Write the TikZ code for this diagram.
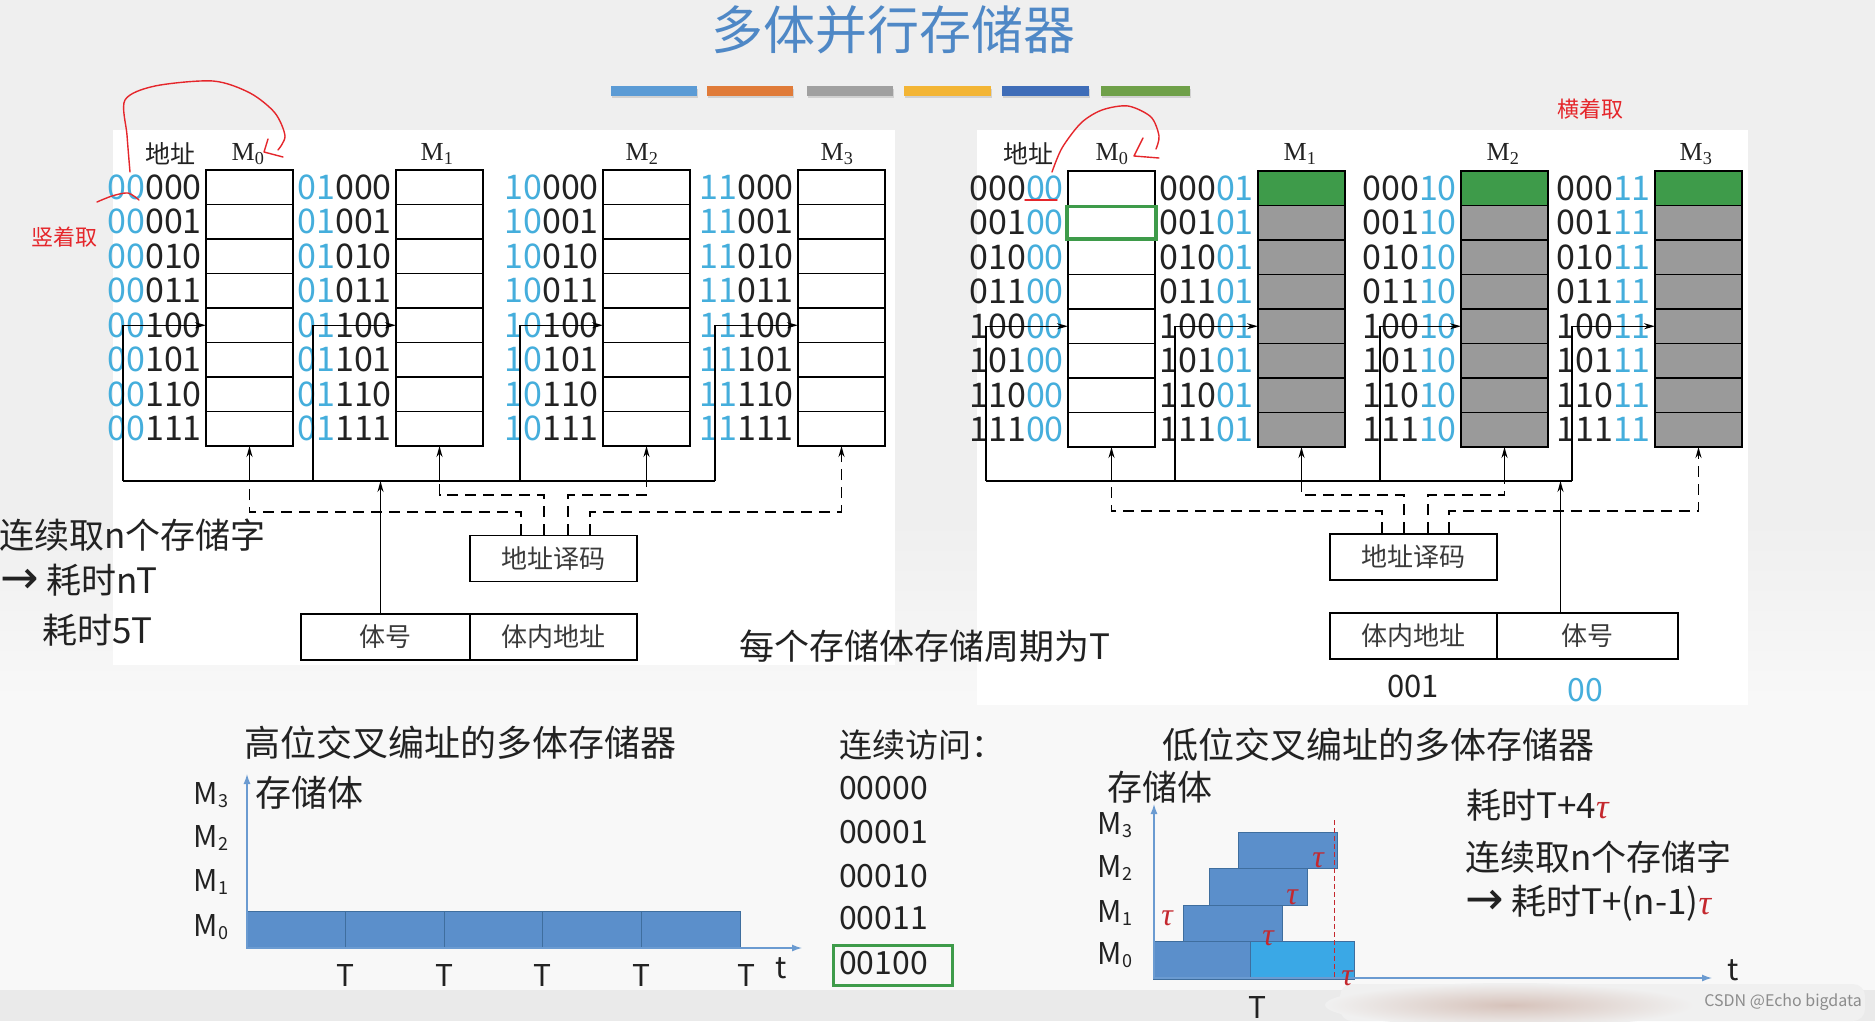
\documentclass[tikz,border=0pt]{standalone}
\usepackage{fontspec}
\setmainfont{Noto Sans CJK SC}
\newfontfamily\serifM{Liberation Serif}
\newfontfamily\arrowf{DejaVu Sans}
\usetikzlibrary{arrows.meta,calc}
\definecolor{bgc}{HTML}{EFEFEF}
\definecolor{lowbg}{HTML}{F8F8F8}
\definecolor{bandc}{HTML}{EAEAEA}
\definecolor{blurc}{HTML}{D6C2BA}
\definecolor{ttl}{HTML}{4F88C6}
\definecolor{addrblue}{HTML}{45AEDC}
\definecolor{cellgreen}{HTML}{3E9B4A}
\definecolor{cellgray}{HTML}{9A9A9A}
\definecolor{barblue}{HTML}{5B8FCB}
\definecolor{barline}{HTML}{3F6E9E}
\definecolor{lightbar}{HTML}{3AA8E6}
\definecolor{axisblue}{HTML}{6B9BD1}
\definecolor{redann}{HTML}{E5262B}
\definecolor{taured}{HTML}{C4282E}
\definecolor{txt}{HTML}{222222}
\definecolor{boxtxt}{HTML}{3A3A3A}
\definecolor{cA}{HTML}{5B9BD5}
\definecolor{cB}{HTML}{E07B39}
\definecolor{cC}{HTML}{A0A0A0}
\definecolor{cD}{HTML}{F3B535}
\definecolor{cE}{HTML}{3F6DB8}
\definecolor{cF}{HTML}{6FA049}
\newcommand\Msub[1]{M\raisebox{-0.12em}{\fontsize{18}{18}\selectfont #1}}
\newcommand\mytau{{\serifM\itshape τ}}
\newcommand\bigarrow{{\arrowf\fontsize{46}{46}\selectfont →}}
\begin{document}
\begin{tikzpicture}[x=1pt,y=-1pt,
  memcell/.style={draw, line width=1.6pt, minimum width=87pt, minimum height=34.5pt, inner sep=0pt, outer sep=0pt},
  addr/.style={font=\fontsize{34}{34}\selectfont, inner sep=0pt, anchor=east, text=txt},
  hdr/.style={font=\fontsize{25}{25}\selectfont, inner sep=0pt, text=txt},
  mhdr/.style={font=\serifM\fontsize{26}{26}\selectfont, inner sep=0pt, text=txt},
  regbox/.style={draw, line width=1.6pt, minimum height=46pt, inner sep=0pt, font=\fontsize{26}{26}\selectfont, text=boxtxt},
  wire/.style={line width=1.5pt},
  dwire/.style={line width=1.5pt, dash pattern=on 11pt off 7pt},
  arr/.style={-{Stealth[length=11pt,width=6pt]}},
  bigtxt/.style={font=\fontsize{35}{35}\selectfont, inner sep=0pt, text=txt, anchor=west},
  midtxt/.style={font=\fontsize{32}{32}\selectfont, inner sep=0pt, text=txt, anchor=west},
  mlab/.style={font=\fontsize{30}{30}\selectfont, inner sep=0pt, text=txt},
  taun/.style={font=\fontsize{32}{32}\selectfont, inner sep=0pt, text=taured},
  redtxt/.style={font=\fontsize{22}{22}\selectfont, inner sep=0pt, text=redann},
  redline/.style={draw=redann, line width=1.4pt, line cap=round, line join=round},
  axisc/.style={draw=axisblue, line width=1.3pt},
  bar/.style={fill=barblue, draw=barline, line width=0.8pt}
]
\useasboundingbox (0,0) rectangle (1875,1021);
% background
\fill[bgc] (0,0) rectangle (1875,1021);
\shade[top color=bgc, bottom color=lowbg] (0,520) rectangle (1875,700);
\fill[lowbg] (0,700) rectangle (1875,990);
\fill[bandc] (0,990) rectangle (1875,1021);
\fill[white] (113,130) rectangle (895,665);
\fill[white] (977,130) rectangle (1748,705);
% blurred patch at the bottom
\fill[rounded corners=12pt, fill=white!30!bandc] (1340,984) rectangle (1865,1021);
\shade[inner color=blurc, outer color=white!30!bandc] (1510,1005) ellipse [x radius=185pt, y radius=22pt];

% title
\node[font=\fontsize{52}{52}\selectfont, text=ttl, inner sep=0pt] (title) at (893,30) {多体并行存储器};
\foreach \c/\xa/\xb in {cA/611/697, cB/707/793, cC/807/893, cD/904/991, cE/1002/1089, cF/1101/1190}{
  \fill[black!18] (\xa+1,89) rectangle (\xb+1,98);
  \fill[\c] (\xa,86) rectangle (\xb,96);
}

% ================= LEFT (high-order interleaving) =================
\node[hdr] (Lhd) at (170,154) {地址};
\foreach \b/\xm in {0/248,1/437,2/642,3/837}{
  \node[mhdr] (LM\b) at (\xm,154) {M\textsubscript{\b}};
}
\foreach \b/\xl/\pre in {0/206/00,1/396/01,2/603/10,3/798/11}{
  \foreach \r/\suf in {0/000,1/001,2/010,3/011,4/100,5/101,6/110,7/111}{
    \pgfmathsetmacro{\yc}{170+34.5*\r+17.25}
    \pgfmathsetmacro{\xc}{\xl+43.5}
    \node[memcell] (L\b-\r) at (\xc,\yc) {};
    \node[addr] (La\b-\r) at (\xl-4,\yc) {\textcolor{addrblue}{\pre}\suf};
  }
}
\foreach \b/\xv in {0/123,1/313,2/520,3/715}{
  \coordinate (Lt\b) at (\xv,325.25);
  \coordinate (Lb\b) at (\xv,481);
  \draw[wire] (Lb\b) -- (Lt\b);
  \draw[wire,arr] (Lt\b) -- (L\b-4.west);
}
\draw[wire] (Lb0) -- (Lb3);

\node[regbox, minimum width=167pt] (Ldec) at (553.5,558.5) {地址译码};
\node[regbox, minimum width=169pt] (Lreg1) at (385.5,637) {体号};
\node[regbox, minimum width=167pt] (Lreg2) at (553.5,637) {体内地址};
\draw[wire,arr] ([xshift=-5pt]Lreg1.north) -- ([xshift=-5pt]Lreg1.north |- Lb0);

\foreach \b/\lev/\dx in {0/512/521,1/495/544,2/495/568}{
  \coordinate (Llev\b) at (0,\lev);
  \coordinate (Ldx\b) at (\dx,0);
  \draw[dwire] (Ldec.north -| Ldx\b) |- (L\b-7.south |- Llev\b) -- (L\b-7.south |- Lb0);
  \draw[wire,arr] (L\b-7.south |- Lb0) -- (L\b-7.south);
}
\coordinate (Llev3) at (0,512);
\coordinate (Ldx3) at (590,0);
\draw[dwire,arr] (Ldec.north -| Ldx3) |- (L3-7.south |- Llev3) -- (L3-7.south);

% red annotations left
\draw[redline] plot[smooth] coordinates {(130,172) (127,135) (125,100) (155,86) (213,81) (250,93) (275,113) (285,136) (278,150)};
\draw[redline] (268,139) -- (264,152) -- (283,157);
\draw[redline] plot[smooth] coordinates {(97,202) (112,196) (128,193) (139,200)};
\node[redtxt] (Lred) at (64,237) {竖着取};

% left texts
\node[bigtxt] (t1) at (-1,535) {连续取n个存储字};
\node[bigtxt] (t2) at (0,580) {\bigarrow\ 耗时nT};
\node[bigtxt] (t3) at (42,630) {耗时5T};
\node[bigtxt] (t4) at (739,646) {每个存储体存储周期为T};

% ================= RIGHT (low-order interleaving) =================
\node[hdr] (Rhd) at (1028,154) {地址};
\foreach \b/\xm in {0/1112,1/1300,2/1503,3/1696}{
  \node[mhdr] (RM\b) at (\xm,154) {M\textsubscript{\b}};
}
\foreach \b/\xl/\pre in {0/1068/00,1/1258/01,2/1461/10,3/1655/11}{
  \foreach \r/\suf in {0/000,1/001,2/010,3/011,4/100,5/101,6/110,7/111}{
    \pgfmathsetmacro{\yc}{171+34.5*\r+17.25}
    \pgfmathsetmacro{\xc}{\xl+43.5}
    \ifnum\b=0 \def\fc{white}\else\ifnum\r=0 \def\fc{cellgreen}\else\def\fc{cellgray}\fi\fi
    \node[memcell, fill=\fc] (R\b-\r) at (\xc,\yc) {};
    \node[addr] (Ra\b-\r) at (\xl-4,\yc) {\suf\textcolor{addrblue}{\pre}};
  }
}
\draw[cellgreen, line width=3.5pt] ([shift={(-1,1)}]R0-1.north west) rectangle ([shift={(1,-1)}]R0-1.south east);

\foreach \b/\xv in {0/986,1/1175,2/1380,3/1572}{
  \coordinate (Rt\b) at (\xv,326.25);
  \coordinate (Rb\b) at (\xv,481);
  \draw[wire] (Rb\b) -- (Rt\b);
  \draw[wire,arr] (Rt\b) -- (R\b-4.west);
}
\draw[wire] (Rb0) -- (Rb3);

\node[regbox, minimum width=167pt] (Rdec) at (1413.5,557) {地址译码};
\node[regbox, minimum width=167pt] (Rreg1) at (1413.5,636) {体内地址};
\node[regbox, minimum width=181pt] (Rreg2) at (1587.5,636) {体号};
\draw[wire,arr] ([xshift=-27pt]Rreg2.north) -- ([xshift=-27pt]Rreg2.north |- Rb0);

\foreach \b/\lev/\dx in {0/511/1382,1/495/1404,2/495/1428}{
  \coordinate (Rlev\b) at (0,\lev);
  \coordinate (Rdx\b) at (\dx,0);
  \draw[dwire] (Rdec.north -| Rdx\b) |- (R\b-7.south |- Rlev\b) -- (R\b-7.south |- Rb0);
  \draw[wire,arr] (R\b-7.south |- Rb0) -- (R\b-7.south);
}
\coordinate (Rlev3) at (0,511);
\coordinate (Rdx3) at (1449,0);
\draw[dwire,arr] (Rdec.north -| Rdx3) |- (R3-7.south |- Rlev3) -- (R3-7.south);

\node[font=\fontsize{31}{31}\selectfont, inner sep=0pt, text=txt] (r001) at (1413,686) {001};
\node[font=\fontsize{32}{32}\selectfont, inner sep=0pt, text=addrblue] (r00) at (1585,690) {00};

% red annotations right
\draw[redline] plot[smooth] coordinates {(1052,172) (1062,148) (1081,123) (1102,110) (1128,106) (1151,117) (1159,136) (1156,149)};
\draw[redline] (1143,138) -- (1134,156) -- (1159,158);
\draw[redline] (1025,200) -- (1057,200);
\node[redtxt] (Rred) at (1590,109) {横着取};

% ================= bottom-left chart =================
\node[font=\fontsize{36}{36}\selectfont, inner sep=0pt, text=txt, anchor=west] (hl) at (244,743) {高位交叉编址的多体存储器};
\coordinate (Ao) at (247,948);
\coordinate (Ay) at (247,774);
\coordinate (Ax) at (802,948);
\foreach \xa/\xb in {247/345,345/444,444/542,542/641,641/740}{
  \draw[bar] (\xa,911) rectangle (\xb,948);
}
\draw[axisc, {Latex[length=10pt,width=7pt]}-{Latex[length=10pt,width=7pt]}] (Ay) -- (Ao) -- (Ax);
\node[font=\fontsize{36}{36}\selectfont, inner sep=0pt, text=txt, anchor=west] (cl) at (255,793) {存储体};
\foreach \i/\yy in {3/795,2/838,1/882,0/927}{
  \node[mlab] (lm\i) at (211,\yy) {\Msub{\i}};
}
\foreach \i/\xx in {1/345,2/444,3/542,4/641,5/746}{
  \node[mlab] (lT\i) at (\xx,975) {T};
}
\node[mlab] (lt) at (781,968) {t};

% consecutive access list
\node[font=\fontsize{33}{33}\selectfont, inner sep=0pt, text=txt, anchor=west] (ca) at (839,745) {连续访问：};
\foreach \i/\s/\yy in {1/00000/788,2/00001/832,3/00010/876,4/00011/918,5/00100/963}{
  \node[midtxt] (cn\i) at (839,\yy) {\s};
}
\draw[cellgreen, line width=3pt] (833,945) rectangle (952,985);

% ================= bottom-right chart =================
\node[font=\fontsize{36}{36}\selectfont, inner sep=0pt, text=txt, anchor=west] (hr) at (1162,745) {低位交叉编址的多体存储器};
\node[font=\fontsize{35}{35}\selectfont, inner sep=0pt, text=txt, anchor=west] (cr) at (1107,787) {存储体};
\coordinate (Bo) at (1154,978);
\coordinate (By) at (1154,804);
\coordinate (Bx) at (1712,978);
\draw[bar] (1153,941) rectangle (1250,979);
\draw[fill=lightbar, draw=barline, line width=0.8pt] (1250,941) rectangle (1354,979);
\draw[bar] (1183,905) rectangle (1282,941);
\draw[bar] (1209,868) rectangle (1307,905);
\draw[bar] (1238,832) rectangle (1337,868);
\draw[axisc, {Latex[length=10pt,width=7pt]}-{Latex[length=10pt,width=7pt]}] (By) -- (Bo) -- (Bx);
\draw[taured, line width=1pt, dash pattern=on 5pt off 3pt] (1334,820) -- (1334,979);
\foreach \i/\yy in {3/825,2/868,1/913,0/955}{
  \node[mlab] (rm\i) at (1115,\yy) {\Msub{\i}};
}
\node[taun] (ta1) at (1167,918) {\mytau};
\node[taun] (ta2) at (1318,860) {\mytau};
\node[taun] (ta3) at (1292,897) {\mytau};
\node[taun] (ta4) at (1268,938) {\mytau};
\node[taun] (ta5) at (1347,978) {\mytau};
\node[mlab] (rT) at (1257,1007) {T};
\node[mlab] (rt) at (1733,970) {t};
\node[bigtxt] (r1) at (1466,805) {耗时T+4\textcolor{taured}{\mytau}};
\node[bigtxt] (r2) at (1465,857) {连续取n个存储字};
\node[bigtxt] (r3) at (1465,903) {\bigarrow\ 耗时T+(n-1)\textcolor{taured}{\mytau}};

% watermark
\node[font=\fontsize{16}{16}\selectfont, inner sep=0pt, text=black!45, anchor=east] (wm) at (1862,1002) {CSDN @Echo bigdata};
\end{tikzpicture}
\end{document}
